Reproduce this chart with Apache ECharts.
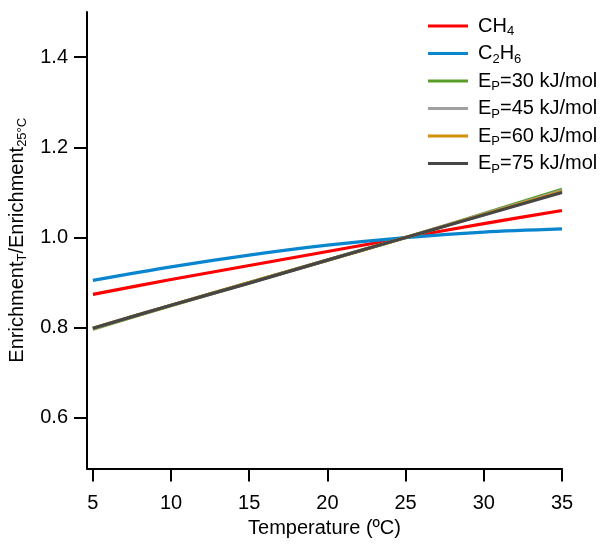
<!DOCTYPE html>
<html>
<head>
<meta charset="utf-8">
<script src="https://cdn.jsdelivr.net/npm/echarts@6/dist/echarts.min.js"></script>
<style>html,body{margin:0;padding:0;background:#fff;}#c{width:603px;height:544px;}</style>
</head>
<body>
<div id="c"></div>
<script>
var temps = [5, 10, 15, 20, 25, 30, 35];
var ch4 = [0.874, 0.907, 0.938, 0.969, 1.0, 1.031, 1.060];
var c2h6 = [0.905, 0.935, 0.961, 0.983, 1.0, 1.012, 1.019];
var ep30 = [0.797, 0.849, 0.900, 0.950, 1.0, 1.053, 1.107];
var ep45 = [0.798, 0.850, 0.900, 0.950, 1.0, 1.052, 1.104];
var ep60 = [0.799, 0.850, 0.900, 0.950, 1.0, 1.051, 1.102];
var ep75 = [0.799, 0.850, 0.899, 0.950, 1.0, 1.050, 1.100];
var xTicks = [5, 10, 15, 20, 25, 30, 35];
var yTicks = [0.6, 0.8, 1.0, 1.2, 1.4];
var names = ['CH4', 'C2H6', 'Ep30', 'Ep45', 'Ep60', 'Ep75'];
var labels = {
  CH4: '{n|CH}{s|4}',
  C2H6: '{n|C}{s|2}{n|H}{s|6}',
  Ep30: '{n|E}{s|P}{n|=30 kJ/mol}',
  Ep45: '{n|E}{s|P}{n|=45 kJ/mol}',
  Ep60: '{n|E}{s|P}{n|=60 kJ/mol}',
  Ep75: '{n|E}{s|P}{n|=75 kJ/mol}'
};
var colors = ['#ff0000', '#0a86cf', '#5a9e2a', '#a0a0a0', '#d18f0b', '#464646'];
var seriesData = [ch4, c2h6, ep30, ep45, ep60, ep75];
var FONT = 'Liberation Sans, Arial, sans-serif';
var FS = 20;

function pairs(arr) { return temps.map(function (t, i) { return [t, arr[i]]; }); }

var richStyles = {
  n: {fontSize: FS, lineHeight: 24, fontFamily: FONT, color: '#000'},
  s: {fontSize: 13, lineHeight: 13, fontFamily: FONT, color: '#000', verticalAlign: 'bottom'}
};

var chart = echarts.init(document.getElementById('c'), null, {renderer: 'canvas'});
chart.setOption({
  animation: false,
  backgroundColor: '#fff',
  color: colors,
  grid: {left: 87, right: 41, top: 12, bottom: 75.5, containLabel: false, outerBoundsMode: 'none'},
  legend: {
    orient: 'vertical',
    left: 423,
    top: 11,
    icon: 'rect',
    itemWidth: 40,
    itemHeight: 3,
    itemGap: 5.5,
    data: names,
    formatter: function (n) { return labels[n]; },
    textStyle: {
      color: '#000',
      fontFamily: FONT,
      padding: [0, 0, 0, 5],
      rich: richStyles
    }
  },
  xAxis: {
    type: 'value',
    min: 4.625,
    max: 35,
    name: 'Temperature (ºC)',
    nameLocation: 'middle',
    nameGap: 47,
    nameTextStyle: {fontSize: FS, fontFamily: FONT, color: '#000'},
    axisLine: {show: true, onZero: false, lineStyle: {color: '#000', width: 2}},
    axisTick: {show: true, length: 13, customValues: xTicks, lineStyle: {color: '#000', width: 2}},
    axisLabel: {customValues: xTicks, fontSize: FS, fontFamily: FONT, color: '#000', margin: 25},
    splitLine: {show: false}
  },
  yAxis: {
    type: 'value',
    min: 0.488,
    max: 1.5,
    name: '{n|Enrichment}{s|T}{n|/Enrichment}{s|25°C}',
    nameLocation: 'middle',
    nameGap: 54,
    nameRotate: 90,
    nameTextStyle: {fontFamily: FONT, color: '#000', rich: richStyles},
    axisLine: {show: true, onZero: false, lineStyle: {color: '#000', width: 2}},
    axisTick: {show: true, length: 13, customValues: yTicks, lineStyle: {color: '#000', width: 2}},
    axisLabel: {
      customValues: yTicks, fontSize: FS, fontFamily: FONT, color: '#000', margin: 19,
      formatter: function (v) { return v.toFixed(1); }
    },
    splitLine: {show: false}
  },
  series: names.map(function (n, i) {
    return {
      name: n,
      type: 'line',
      data: pairs(seriesData[i]),
      smooth: 0.3,
      showSymbol: false,
      symbol: 'none',
      lineStyle: {width: 3.2, color: colors[i]},
      itemStyle: {color: colors[i]},
      z: 2 + i
    };
  })
});
</script>
</body>
</html>
